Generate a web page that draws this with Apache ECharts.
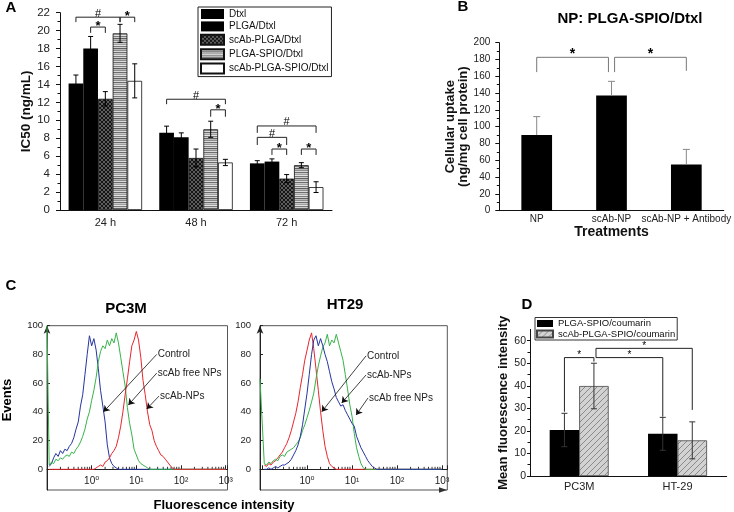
<!DOCTYPE html>
<html>
<head>
<meta charset="utf-8">
<script src="https://cdn.jsdelivr.net/npm/echarts@6/dist/echarts.min.js"></script>
<style>
html, body { margin: 0; padding: 0; background: #fff; }
#main { width: 734px; height: 512px; }
</style>
</head>
<body>
<div id="main"></div>
<script>
var FONT = 'Arial, "Liberation Sans", Helvetica, sans-serif';

// ---------- panel A : IC50
var A_TIMES = ['24 h', '48 h', '72 h'];
var A_NAMES = ['Dtxl', 'PLGA/Dtxl', 'scAb-PLGA/Dtxl', 'PLGA-SPIO/Dtxl', 'scAb-PLGA-SPIO/Dtxl'];
var A_DTXL = [14.1, 8.6, 5.2];
var A_DTXL_ERR = [0.95, 0.75, 0.3];
var A_PLGA = [18.0, 8.1, 5.4];
var A_PLGA_ERR = [1.35, 0.5, 0.3];
var A_SCAB_PLGA = [12.4, 5.8, 3.5];
var A_SCAB_PLGA_ERR = [0.8, 1.0, 0.45];
var A_SPIO = [19.7, 9.0, 5.0];
var A_SPIO_ERR = [1.0, 0.9, 0.28];
var A_SCAB_SPIO = [14.4, 5.3, 2.55];
var A_SCAB_SPIO_ERR = [1.9, 0.35, 0.6];
// [fromGroup, fromBar, fromLegEnd, toGroup, toBar, toLegEnd, top, mark]
var A_BRACKETS = [
  [0, 0, 20.95, 0, 3, 20.95, 21.5, '#'],
  [0, 1, 19.75, 0, 2, 19.75, 20.4, '*'],
  [0, 3, 20.95, 0, 4, 20.95, 21.5, '*'],
  [1, 0, 11.8, 1, 4, 11.8, 12.35, '#'],
  [1, 3, 10.4, 1, 4, 10.4, 11.17, '*'],
  [2, 0, 8.6, 2, 4, 8.6, 9.37, '#'],
  [2, 0, 7.25, 2, 2, 7.25, 8.1, '#'],
  [2, 1, 6.14, 2, 2, 6.14, 6.8, '*'],
  [2, 3, 6.14, 2, 4, 6.14, 6.8, '*']
];

// ---------- panel B : uptake
var B_CATS = ['NP', 'scAb-NP', 'scAb-NP + Antibody'];
var B_UPTAKE = [90, 137, 55];
var B_UPTAKE_ERR = [22, 17, 18];
var B_BRACKETS = [
  [0, 0, 165, 1, -0.1, 165, 182.6, '*'],
  [1, 0.1, 165, 2, 0, 166.5, 182.6, '*']
];

// ---------- panel C : flow histograms
var BINS = [0.112, 0.126, 0.141, 0.158, 0.178, 0.2, 0.224, 0.251, 0.282, 0.316,
  0.355, 0.398, 0.447, 0.501, 0.562, 0.631, 0.708, 0.794, 0.891, 1,
  1.12, 1.26, 1.41, 1.58, 1.78, 2, 2.24, 2.51, 2.82, 3.16,
  3.55, 3.98, 4.47, 5.01, 5.62, 6.31, 7.08, 7.94, 8.91, 10,
  11.2, 12.6, 14.1, 15.8, 17.8, 20, 22.4, 25.1, 28.2, 31.6,
  35.5, 39.8, 44.7, 50.1, 56.2, 63.1, 70.8, 79.4, 89.1, 100,
  1000];
var PC3M_CONTROL = [2, 4, 8, 11, 9, 13, 11, 14, 13, 16,
  18, 22, 28, 33, 44, 52, 66, 80, 93, 86,
  91, 83, 70, 55, 44, 33, 17, 8, 4, 2,
  1, 0, 0, 0, 0, 0, 0, 0, 0, 0,
  0, 0, 0, 0, 0, 0, 0, 0, 0, 0,
  0, 0, 0, 0, 0, 0, 0, 0, 0, 0,
  0];
var PC3M_FREE = [3, 5, 4, 7, 6, 8, 7, 9, 10, 9,
  12, 11, 14, 16, 19, 23, 28, 35, 40, 48,
  55, 64, 75, 82, 86, 84, 90, 86, 91, 88,
  95, 88, 78, 68, 58, 43, 32, 24, 14, 10,
  6, 4, 3, 2, 1, 0, 0, 0, 0, 0,
  0, 0, 0, 0, 0, 0, 0, 0, 0, 0,
  0];
var PC3M_SCAB = [0, 0, 0, 0, 0, 0, 0, 0, 0, 0,
  0, 0, 0, 0, 0, 0, 0, 0, 0, 0,
  0, 1, 2, 3, 2, 5, 6, 8, 11, 13,
  16, 22, 30, 40, 52, 63, 75, 86, 90, 96,
  90, 78, 62, 52, 40, 31, 27, 20, 16, 13,
  10, 9, 7, 5, 3, 1, 0, 0, 0, 0,
  0];
var PC3M_FREE_FIRST = 100;
var HT29_CONTROL = [3, 2, 4, 3, 5, 6, 8, 10, 12, 15,
  18, 22, 27, 33, 39, 47, 57, 66, 76, 83,
  90, 95, 84, 70, 55, 40, 27, 16, 9, 4,
  2, 1, 0, 0, 0, 0, 0, 0, 0, 0,
  0, 0, 0, 0, 0, 0, 0, 0, 0, 0,
  0, 0, 0, 0, 0, 0, 0, 0, 0, 0,
  0];
var HT29_SCAB = [0, 0, 1, 0, 1, 2, 1, 2, 3, 3,
  4, 5, 7, 10, 13, 17, 23, 31, 42, 53,
  66, 80, 90, 93, 86, 91, 86, 80, 75, 68,
  61, 56, 50, 47, 44, 45, 41, 38, 35, 32,
  30, 23, 19, 15, 12, 9, 6, 4, 2, 1,
  0, 0, 0, 0, 0, 0, 0, 0, 0, 0,
  0];
var HT29_FREE = [4, 3, 5, 4, 6, 7, 6, 9, 10, 9,
  12, 13, 14, 15, 17, 19, 22, 27, 31, 36,
  41, 47, 53, 63, 72, 79, 85, 88, 94, 86,
  90, 88, 94, 88, 82, 76, 66, 56, 45, 37,
  25, 15, 9, 4, 1, 0, 0, 0, 0, 0,
  0, 0, 0, 0, 0, 0, 0, 0, 0, 0,
  0];
var HT29_FREE_FIRST = 63;
var C_TICKS = [0, 20, 40, 60, 80, 100];
// [label, text/arrow start x, y, arrow tip x, y]
var PC3M_NOTES = {
  control: ['Control', 28.6, 80, 1.84, 40],
  free: ['scAb free NPs', 28.6, 67, 6.64, 44.8],
  scab: ['scAb-NPs', 32.2, 51, 17.1, 42]
};
var HT29_NOTES = {
  control: ['Control', 20.5, 79, 2.12, 40.1],
  scab: ['scAb-NPs', 20.5, 65.7, 5.9, 46.2],
  free: ['scAb free NPs', 22.7, 49.7, 12.3, 37.8]
};

// ---------- panel D : mean fluorescence
var D_CELLS = ['PC3M', 'HT-29'];
var D_NAMES = ['PLGA-SPIO/coumarin', 'scAb-PLGA-SPIO/coumarin'];
var D_PLAIN = [20.4, 18.7];
var D_PLAIN_ERR = [7.4, 7.3];
var D_SCAB = [39.9, 15.8];
var D_SCAB_ERR = [10.1, 8.2];
var D_BRACKETS = [
  [0, 0, 28.5, 0, 1, 50.7, 52.5, '*'],
  [0, 1.07, 52.5, 1, 0, 26.3, 52.5, '*'],
  [0, 1.07, 52.5, 1, 1, 29.3, 56.6, '*']
];

// fills
function makePattern(w, h, draw) {
  var c = document.createElement('canvas');
  c.width = w; c.height = h;
  draw(c.getContext('2d'));
  return { image: c, repeat: 'repeat' };
}
var crossHatch = makePattern(4, 4, function (ctx) {
  ctx.fillStyle = '#5c5c5c'; ctx.fillRect(0, 0, 4, 4);
  ctx.fillStyle = '#151515';
  [[0, 0], [1, 1], [2, 2], [3, 3], [3, 0], [2, 1], [1, 2], [0, 3]].forEach(function (p) { ctx.fillRect(p[0], p[1], 1, 1); });
});
var hStripes = makePattern(2, 10, function (ctx) {
  ['#8c8c8c', '#d9d9d9', '#6e6e6e', '#c8c8c8', '#a0a0a0', '#e4e4e4', '#7a7a7a', '#cfcfcf', '#5f5f5f', '#b8b8b8']
    .forEach(function (col, i) { ctx.fillStyle = col; ctx.fillRect(0, i, 2, 1); });
});
var diagHatch = makePattern(6, 6, function (ctx) {
  ctx.fillStyle = '#d2d2d2'; ctx.fillRect(0, 0, 6, 6);
  ctx.strokeStyle = '#8a8a8a'; ctx.lineWidth = 1;
  ctx.beginPath();
  ctx.moveTo(0, 6); ctx.lineTo(6, 0);
  ctx.moveTo(-1, 1); ctx.lineTo(1, -1);
  ctx.moveTo(5, 7); ctx.lineTo(7, 5);
  ctx.stroke();
});

// error bars & brackets drawn with custom series
function errData(vals, errs, upOnly) {
  var out = [];
  vals.forEach(function (arr, s) {
    arr.forEach(function (v, c) {
      out.push([c, upOnly ? v : v - errs[s][c], v + errs[s][c], s]);
    });
  });
  return out;
}
function errRender(n, bw, cap, color, upOnly) {
  return function (params, api) {
    var c = api.value(0), s = api.value(3);
    var x = api.coord([c, 0])[0] + (s - (n - 1) / 2) * bw;
    var yLo = api.coord([c, api.value(1)])[1], yHi = api.coord([c, api.value(2)])[1];
    var st = { stroke: color, lineWidth: 1 };
    var kids = [
      { type: 'line', shape: { x1: x, y1: yLo, x2: x, y2: yHi }, style: st },
      { type: 'line', shape: { x1: x - cap / 2, y1: yHi, x2: x + cap / 2, y2: yHi }, style: st }
    ];
    if (!upOnly) kids.push({ type: 'line', shape: { x1: x - cap / 2, y1: yLo, x2: x + cap / 2, y2: yLo }, style: st });
    return { type: 'group', children: kids };
  };
}
function bracketRender(list, n, bw, color, starFont, starDy, hashFont, hashDy) {
  return function (params, api) {
    var off = function (s) { return (s - (n - 1) / 2) * bw; };
    var c1 = api.value(0), c2 = api.value(3), top = api.value(6);
    var x1 = api.coord([c1, top])[0] + off(api.value(1));
    var x2 = api.coord([c2, top])[0] + off(api.value(4));
    var yT = api.coord([c1, top])[1];
    var y1 = api.coord([c1, api.value(2)])[1];
    var y2 = api.coord([c2, api.value(5)])[1];
    var mark = list[params.dataIndex][7];
    var isHash = mark === '#';
    return {
      type: 'group',
      children: [
        { type: 'polyline', shape: { points: [[x1, y1], [x1, yT], [x2, yT], [x2, y2]] }, style: { stroke: color, fill: null, lineWidth: 1 } },
        { type: 'text', x: (x1 + x2) / 2, y: yT + (isHash ? hashDy : starDy),
          style: { text: mark, font: isHash ? hashFont : starFont, fill: '#000',
            textAlign: 'center', textVerticalAlign: 'middle', align: 'center', verticalAlign: 'middle' } }
      ]
    };
  };
}
function brData(list) { return list.map(function (b) { return b.slice(0, 7); }); }

var SUP = ['\u2070', '\u00b9', '\u00b2', '\u00b3'];
function logLabel(v) {
  var e = Math.log10(v), r = Math.round(e);
  if (Math.abs(e - r) < 1e-6 && r >= 0 && r <= 3) return '10' + SUP[r];
  return '';
}
var LOG_MINOR = [];
[0.1, 1, 10, 100].forEach(function (d) {
  for (var m = 2; m <= 9; m++) LOG_MINOR.push([m * d, 0]);
});
function minorTickRender(params, api) {
  var p = api.coord([api.value(0), 0]);
  return { type: 'line', shape: { x1: p[0], y1: p[1], x2: p[0], y2: p[1] - 2.5 }, style: { stroke: '#333', lineWidth: 1 } };
}
function pairs(arr, first, xmin) {
  var d = BINS.map(function (x, i) { return [x, arr[i]]; });
  if (first != null) d.unshift([xmin, first]);
  return d;
}
function curve(name, arr, color, axis, note, first, xmin) {
  return {
    type: 'line', name: name, xAxisIndex: axis, yAxisIndex: axis,
    data: pairs(arr, first, xmin), showSymbol: false, symbol: 'none',
    lineStyle: { color: color, width: 1 }, itemStyle: { color: color }, z: 3,
    markLine: {
      silent: true, symbol: ['none', 'arrow'], symbolSize: 6,
      lineStyle: { color: '#111', width: 0.8, type: 'solid' }, label: { show: false },
      data: [[{ coord: [note[1], note[2]] }, { coord: [note[3], note[4]] }]]
    },
    markPoint: {
      silent: true, symbol: 'circle', symbolSize: 0,
      label: { show: true, position: 'right', distance: 1, formatter: note[0], fontSize: 10, fontFamily: FONT, color: '#222' },
      data: [{ coord: [note[1], note[2]] }]
    }
  };
}

var axisLineBlack = { show: true, lineStyle: { color: '#111', width: 1 } };

var A_VALS = [A_DTXL, A_PLGA, A_SCAB_PLGA, A_SPIO, A_SCAB_SPIO];
var A_ERRS = [A_DTXL_ERR, A_PLGA_ERR, A_SCAB_PLGA_ERR, A_SPIO_ERR, A_SCAB_SPIO_ERR];
var A_FILLS = ['#000', '#000', crossHatch, hStripes, '#fff'];
var A_BW = 14.7;

var series = [];
A_NAMES.forEach(function (name, i) {
  series.push({
    type: 'bar', name: name, xAxisIndex: 0, yAxisIndex: 0, data: A_VALS[i],
    barWidth: A_BW, barGap: '0%',
    itemStyle: { color: A_FILLS[i], borderColor: '#111', borderWidth: i < 2 ? 0 : 0.8 }
  });
});
series.push({ type: 'custom', xAxisIndex: 0, yAxisIndex: 0, silent: true, z: 4,
  renderItem: errRender(5, A_BW, 5, '#000', false), data: errData(A_VALS, A_ERRS, false), encode: { x: 0, y: [1, 2] } });
series.push({ type: 'custom', xAxisIndex: 0, yAxisIndex: 0, silent: true, z: 4,
  renderItem: bracketRender(A_BRACKETS, 5, A_BW, '#222', 'bold 13px ' + FONT, -0.5, '11px ' + FONT, -3.5),
  data: brData(A_BRACKETS), encode: { x: [0, 3], y: [2, 5, 6] } });

series.push({ type: 'bar', name: 'uptake', xAxisIndex: 1, yAxisIndex: 1, data: B_UPTAKE, barWidth: 30.7, itemStyle: { color: '#000' } });
series.push({ type: 'custom', xAxisIndex: 1, yAxisIndex: 1, silent: true, z: 4,
  renderItem: errRender(1, 30.7, 7, '#888', true), data: errData([B_UPTAKE], [B_UPTAKE_ERR], true), encode: { x: 0, y: [1, 2] } });
series.push({ type: 'custom', xAxisIndex: 1, yAxisIndex: 1, silent: true, z: 4,
  renderItem: bracketRender(B_BRACKETS, 1, 30.7, '#777', 'bold 14px ' + FONT, -3.5, '', 0),
  data: brData(B_BRACKETS), encode: { x: [0, 3], y: [2, 5, 6] } });

series.push(curve('PC3M Control', PC3M_CONTROL, '#2535a0', 2, PC3M_NOTES.control));
series.push(curve('PC3M scAb free NPs', PC3M_FREE, '#37b34a', 2, PC3M_NOTES.free, PC3M_FREE_FIRST, 0.1));
series.push(curve('PC3M scAb-NPs', PC3M_SCAB, '#e8262c', 2, PC3M_NOTES.scab));
series.push({ type: 'custom', xAxisIndex: 2, yAxisIndex: 2, silent: true, renderItem: minorTickRender, data: LOG_MINOR, encode: { x: 0, y: 1 } });

series.push(curve('HT29 Control', HT29_CONTROL, '#e8262c', 3, HT29_NOTES.control));
series.push(curve('HT29 scAb free NPs', HT29_FREE, '#37b34a', 3, HT29_NOTES.free, HT29_FREE_FIRST, 0.09));
series.push(curve('HT29 scAb-NPs', HT29_SCAB, '#2535a0', 3, HT29_NOTES.scab));
series.push({ type: 'custom', xAxisIndex: 3, yAxisIndex: 3, silent: true, renderItem: minorTickRender, data: LOG_MINOR, encode: { x: 0, y: 1 } });

var D_BW = 29.5;
series.push({ type: 'bar', name: D_NAMES[0], xAxisIndex: 4, yAxisIndex: 4, data: D_PLAIN, barWidth: D_BW, barGap: '0%',
  itemStyle: { color: '#000' } });
series.push({ type: 'bar', name: D_NAMES[1], xAxisIndex: 4, yAxisIndex: 4, data: D_SCAB, barWidth: D_BW, barGap: '0%',
  itemStyle: { color: diagHatch, borderColor: '#444', borderWidth: 0.8 } });
series.push({ type: 'custom', xAxisIndex: 4, yAxisIndex: 4, silent: true, z: 4,
  renderItem: errRender(2, D_BW, 6, '#333', false), data: errData([D_PLAIN, D_SCAB], [D_PLAIN_ERR, D_SCAB_ERR], false), encode: { x: 0, y: [1, 2] } });
series.push({ type: 'custom', xAxisIndex: 4, yAxisIndex: 4, silent: true, z: 4,
  renderItem: bracketRender(D_BRACKETS, 2, D_BW, '#222', '10px ' + FONT, -2.5, '', 0),
  data: brData(D_BRACKETS), encode: { x: [0, 3], y: [2, 5, 6] } });

function valueAxis(grid, min, max, interval, extra) {
  var ax = {
    type: 'value', gridIndex: grid, min: min, max: max, interval: interval,
    axisLine: axisLineBlack, axisTick: { show: true, length: 4, lineStyle: { color: '#111' } },
    minorTick: { show: true, splitNumber: 2, length: 2.5, lineStyle: { color: '#111' } },
    splitLine: { show: false }, minorSplitLine: { show: false },
    axisLabel: { fontSize: 11, color: '#222', fontFamily: FONT },
    nameLocation: 'middle', nameTextStyle: { fontWeight: 'bold', fontSize: 13, color: '#111', fontFamily: FONT }
  };
  return Object.assign(ax, extra);
}
// y = 0 sits 20.7px above the bottom of the framed plot
function logAxis(grid, min, max) {
  return {
    type: 'log', gridIndex: grid, logBase: 10, min: min, max: max, splitNumber: 4,
    position: 'bottom', offset: -20.7,
    axisLine: { onZero: false, lineStyle: { color: '#222' } },
    axisTick: { inside: true, length: 4, lineStyle: { color: '#222' } },
    axisLabel: { formatter: logLabel, fontSize: 10, color: '#222', margin: 7, fontFamily: 'Arial, "DejaVu Sans", sans-serif' },
    splitLine: { show: false }
  };
}
function eventAxis(grid, margin) {
  return {
    type: 'value', gridIndex: grid, min: -14.4, max: 100,
    axisLine: { show: true, onZero: false, symbol: ['none', 'arrow'], symbolSize: [5, 8], lineStyle: { color: '#222' } },
    axisTick: { show: true, inside: true, length: 3, customValues: C_TICKS, lineStyle: { color: '#222' } },
    axisLabel: { customValues: C_TICKS, fontSize: 9.5, color: '#222', margin: margin, fontFamily: FONT },
    splitLine: { show: false }
  };
}

var option = {
  animation: false,
  backgroundColor: '#fff',
  textStyle: { fontFamily: FONT },
  grid: [
    { left: 60, top: 12.7, width: 272, height: 197.3 },
    { left: 499.3, top: 42.7, width: 225.7, height: 168 },
    { left: 47, top: 325.7, width: 180.5, height: 164.3, show: true, borderColor: '#555', borderWidth: 1 },
    { left: 260, top: 325.7, width: 187.3, height: 164.3, show: true, borderColor: '#555', borderWidth: 1 },
    { left: 530, top: 329.4, width: 196.7, height: 146.6 }
  ],
  legend: [
    { data: A_NAMES, left: 198, top: 7, orient: 'vertical', icon: 'rect', itemWidth: 23, itemHeight: 10, itemGap: 2.4,
      borderColor: '#222', borderWidth: 1, padding: [2, 3, 2, 2],
      textStyle: { fontSize: 10, color: '#111', fontFamily: FONT } },
    { data: D_NAMES, left: 535, top: 317.5, orient: 'vertical', icon: 'rect', itemWidth: 16, itemHeight: 7, itemGap: 0.5,
      borderColor: '#333', borderWidth: 1, padding: [1, 2, 1, 1],
      textStyle: { fontSize: 9.5, color: '#111', fontFamily: FONT } }
  ],
  xAxis: [
    { type: 'category', gridIndex: 0, data: A_TIMES, axisLine: axisLineBlack,
      axisTick: { alignWithLabel: true, length: 4, lineStyle: { color: '#111' } },
      axisLabel: { fontSize: 11, color: '#222', margin: 7, fontFamily: FONT } },
    { type: 'category', gridIndex: 1, data: B_CATS, axisLine: axisLineBlack, axisTick: { show: false },
      axisLabel: { fontSize: 10, color: '#222', margin: 4, fontFamily: FONT, interval: 0 },
      name: 'Treatments', nameLocation: 'middle', nameGap: 13,
      nameTextStyle: { fontWeight: 'bold', fontSize: 14, color: '#111', fontFamily: FONT } },
    logAxis(2, 0.1, 1100),
    logAxis(3, 0.09, 1310),
    { type: 'category', gridIndex: 4, data: D_CELLS, axisLine: axisLineBlack,
      axisTick: { inside: true, length: 3, lineStyle: { color: '#111' } },
      axisLabel: { fontSize: 11, color: '#222', margin: 5, fontFamily: FONT } }
  ],
  yAxis: [
    valueAxis(0, 0, 22, 2, { name: 'IC50 (ng/mL)', nameGap: 25, axisLabel: { fontSize: 11.5, color: '#222', margin: 10, fontFamily: FONT },
      nameTextStyle: { fontWeight: 'bold', fontSize: 13.5, color: '#111', fontFamily: FONT } }),
    valueAxis(1, 0, 200, 20, { name: 'Cellular uptake\n(ng/mg cell protein)', nameGap: 26,
      axisLabel: { fontSize: 10, color: '#222', margin: 9, fontFamily: FONT },
      nameTextStyle: { fontWeight: 'bold', fontSize: 13, lineHeight: 13, color: '#111', fontFamily: FONT } }),
    eventAxis(2, 4),
    eventAxis(3, 9),
    valueAxis(4, 0, 65, 10, { name: 'Mean fluorescence intensity', nameGap: 19,
      axisTick: { show: true, length: 3, customValues: [0, 10, 20, 30, 40, 50, 60], lineStyle: { color: '#111' } },
      axisLabel: { customValues: [0, 10, 20, 30, 40, 50, 60], fontSize: 10.5, color: '#222', margin: 4, fontFamily: FONT } })
  ],
  graphic: [
    { type: 'text', x: 11, y: 8, style: { text: 'A', font: 'bold 15px ' + FONT, fill: '#000', textAlign: 'center', textVerticalAlign: 'middle', align: 'center', verticalAlign: 'middle' } },
    { type: 'text', x: 463, y: 7, style: { text: 'B', font: 'bold 15px ' + FONT, fill: '#000', textAlign: 'center', textVerticalAlign: 'middle', align: 'center', verticalAlign: 'middle' } },
    { type: 'text', x: 11, y: 286, style: { text: 'C', font: 'bold 15px ' + FONT, fill: '#000', textAlign: 'center', textVerticalAlign: 'middle', align: 'center', verticalAlign: 'middle' } },
    { type: 'text', x: 527, y: 305, style: { text: 'D', font: 'bold 15px ' + FONT, fill: '#000', textAlign: 'center', textVerticalAlign: 'middle', align: 'center', verticalAlign: 'middle' } },
    { type: 'text', x: 630, y: 18.5, style: { text: 'NP: PLGA-SPIO/Dtxl', font: 'bold 15px ' + FONT, fill: '#000', textAlign: 'center', textVerticalAlign: 'middle', align: 'center', verticalAlign: 'middle' } },
    { type: 'text', x: 126, y: 309, style: { text: 'PC3M', font: 'bold 15px ' + FONT, fill: '#000', textAlign: 'center', textVerticalAlign: 'middle', align: 'center', verticalAlign: 'middle' } },
    { type: 'text', x: 345, y: 304.5, style: { text: 'HT29', font: 'bold 15px ' + FONT, fill: '#000', textAlign: 'center', textVerticalAlign: 'middle', align: 'center', verticalAlign: 'middle' } },
    { type: 'text', x: 7.5, y: 400, rotation: Math.PI / 2, style: { text: 'Events', font: 'bold 13px ' + FONT, fill: '#000', textAlign: 'center', textVerticalAlign: 'middle', align: 'center', verticalAlign: 'middle' } },
    { type: 'text', x: 224, y: 505, style: { text: 'Fluorescence intensity', font: 'bold 13px ' + FONT, fill: '#000', textAlign: 'center', textVerticalAlign: 'middle', align: 'center', verticalAlign: 'middle' } },
    // arrow head on the HT29 frame's lower edge
    { type: 'polygon', shape: { points: [[439, 487.3], [447, 490], [439, 492.7]] }, style: { fill: '#333' } }
  ],
  series: series
};

var chart = echarts.init(document.getElementById('main'), null, { renderer: 'canvas' });
chart.setOption(option);
</script>
</body>
</html>
